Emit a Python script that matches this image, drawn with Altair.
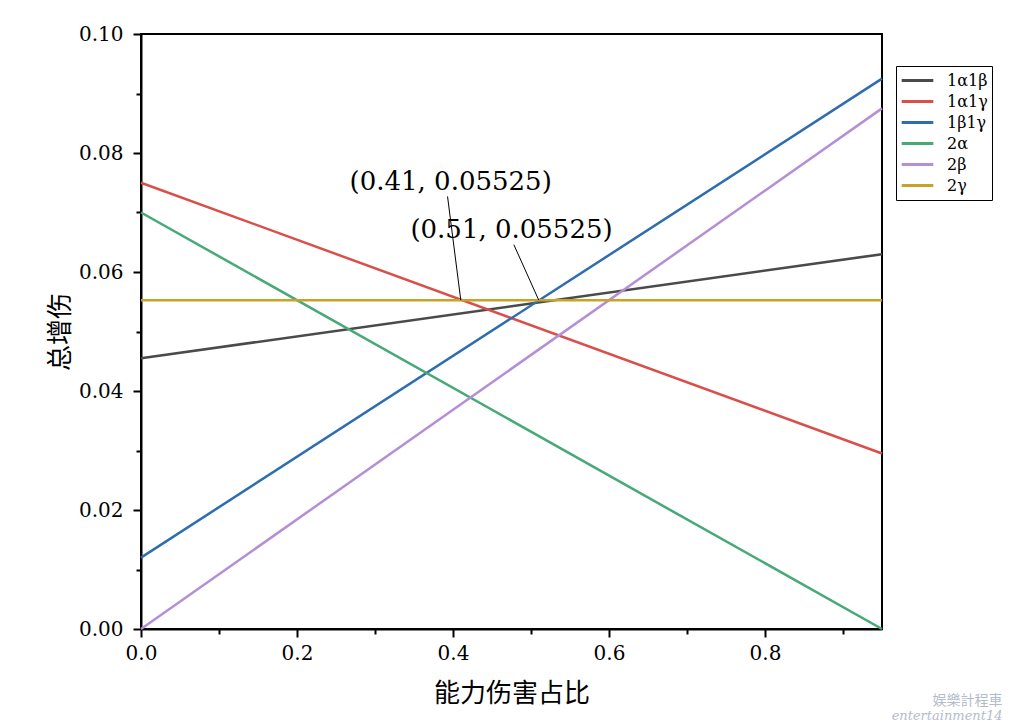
import altair as alt
import pandas as pd

# ---- data ----
series = ["1α1β", "1α1γ", "1β1γ", "2α", "2β", "2γ"]
x_start = [0.0, 0.0, 0.0, 0.0, 0.0, 0.0]
x_end = [0.95, 0.95, 0.95, 0.95, 0.95, 0.95]
y_start = [0.0455, 0.0750, 0.0120, 0.0700, 0.0000, 0.05525]
y_end = [0.0630, 0.0295, 0.0925, 0.0000, 0.0875, 0.05525]
colors = ["#4a4a4a", "#d9504b", "#2e6db0", "#47a878", "#b48fd6", "#c9a22a"]

ann_text = ["(0.41, 0.05525)", "(0.51, 0.05525)"]
ann_tx = [0.397, 0.475]
ann_ty = [0.0751, 0.0671]
lead_x1 = [0.393, 0.478]
lead_y1 = [0.0727, 0.0646]
lead_x2 = [0.41, 0.51]
lead_y2 = [0.05525, 0.05525]

y_major = [0.0, 0.02, 0.04, 0.06, 0.08, 0.10]
y_minor = [0.01, 0.03, 0.05, 0.07, 0.09]
x_major = [0.0, 0.2, 0.4, 0.6, 0.8]
x_minor = [0.1, 0.3, 0.5, 0.7, 0.9]

rows = []
for s, xa, xb, ya, yb in zip(series, x_start, x_end, y_start, y_end):
    rows.append({"series": s, "x": xa, "y": ya})
    rows.append({"series": s, "x": xb, "y": yb})
df = pd.DataFrame(rows)

ann = pd.DataFrame({"t": ann_text, "x": ann_tx, "y": ann_ty})
lead = pd.DataFrame({"x": lead_x1, "y": lead_y1, "x2": lead_x2, "y2": lead_y2})

SERIF = "DejaVu Serif"
CJK = "Noto Sans CJK SC"

xscale = alt.Scale(domain=[0, 0.95], nice=False, zero=False)
yscale = alt.Scale(domain=[0, 0.1], nice=False, zero=False)

x_axis = alt.Axis(
    values=x_major, format=".1f", orient="bottom", grid=False, labelFlush=False,
    domainColor="black", domainWidth=2, tickColor="black", tickWidth=2, tickSize=8,
    labelFont=SERIF, labelFontSize=20, labelColor="black", labelPadding=6,
    title="能力伤害占比", titleFont=CJK, titleFontSize=26, titleFontWeight="normal",
    titleColor="black", titleY=64, titleBaseline="middle",
)
y_axis = alt.Axis(
    values=y_major, format=".2f", orient="left", grid=False, labelFlush=False,
    domainColor="black", domainWidth=2, tickColor="black", tickWidth=2, tickSize=8,
    labelFont=SERIF, labelFontSize=20, labelColor="black", labelPadding=10,
    title="总增伤", titleFont=CJK, titleFontSize=26, titleFontWeight="normal",
    titleColor="black", titleX=-81, titleY=297.5, titleBaseline="middle",
)

lines = alt.Chart(df).mark_line(strokeWidth=2.5).encode(
    x=alt.X("x:Q", scale=xscale, axis=x_axis),
    y=alt.Y("y:Q", scale=yscale, axis=y_axis),
    color=alt.Color(
        "series:N",
        scale=alt.Scale(domain=series, range=colors),
        legend=alt.Legend(
            title=None, orient="none", legendX=755, legendY=32,
            strokeColor="black", fillColor="white", padding=4,
            symbolType="stroke", symbolSize=1000, symbolStrokeWidth=3,
            labelFont=SERIF, labelFontSize=16, labelColor="black",
            rowPadding=0, clipHeight=21, labelOffset=12,
        ),
    ),
)

minor = alt.Chart(df).mark_line(opacity=0).encode(
    x=alt.X("x:Q", scale=xscale, axis=alt.Axis(
        values=x_minor, orient="bottom", labels=False, grid=False, domain=False,
        tickColor="black", tickWidth=2, tickSize=5, title=None)),
    y=alt.Y("y:Q", scale=yscale, axis=alt.Axis(
        values=y_minor, orient="left", labels=False, grid=False, domain=False,
        tickColor="black", tickWidth=2, tickSize=5, title=None)),
)

leaders = alt.Chart(lead).mark_rule(color="black", strokeWidth=1).encode(
    x=alt.X("x:Q", axis=None), y=alt.Y("y:Q", axis=None), x2="x2:Q", y2="y2:Q"
)

labels = alt.Chart(ann).mark_text(font=SERIF, fontSize=26, color="black").encode(
    x=alt.X("x:Q", axis=None), y=alt.Y("y:Q", axis=None), text="t:N"
)

chart = alt.layer(lines, minor, leaders, labels).resolve_axis(
    x="independent", y="independent"
).properties(
    width=741, height=595,
    background="white",
    autosize=alt.AutoSizeParams(type="none"),
    padding={"left": 133, "top": 26, "right": 120, "bottom": 96},
    title=alt.TitleParams(
        text="娱樂計程車", subtitle="entertainment14", orient="bottom", anchor="end",
        font=CJK, fontSize=14, fontWeight="normal", color="#b4bccb",
        subtitleFont=SERIF, subtitleFontSize=13, subtitleColor="#b4bccb",
        subtitleFontStyle="italic", subtitlePadding=2, offset=-12, dx=10,
    ),
).configure_view(stroke="black", strokeWidth=2)

chart.save("out.html", embed_options={"renderer": "svg", "actions": False})
